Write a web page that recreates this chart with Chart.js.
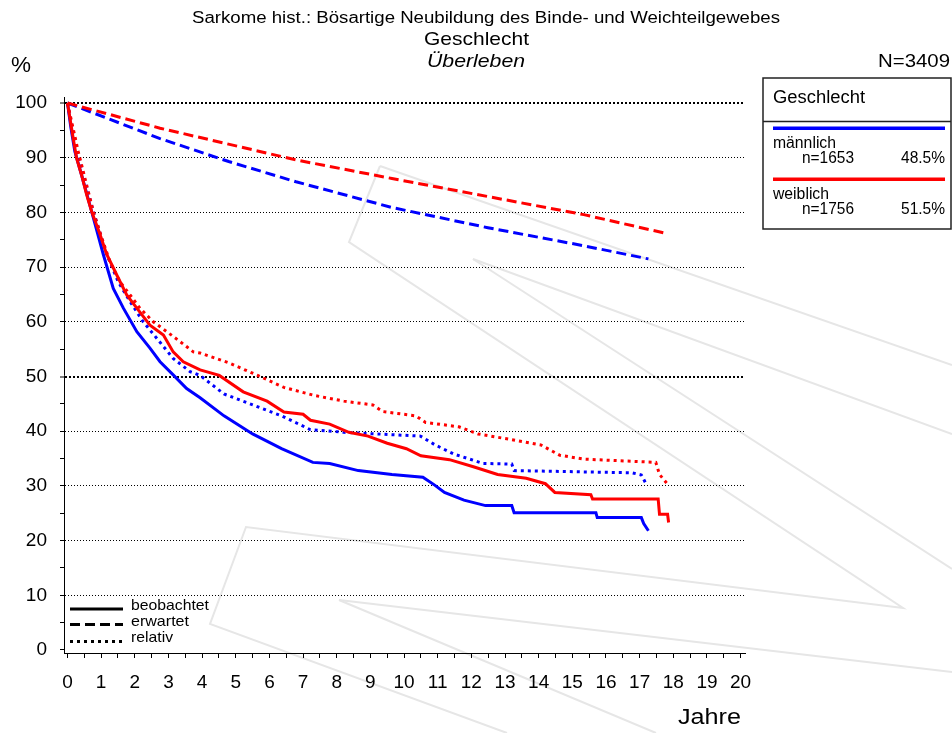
<!DOCTYPE html>
<html lang="de">
<head>
<meta charset="UTF-8">
<title>Sarkome - Überleben nach Geschlecht</title>
<style>
    html, body { margin: 0; padding: 0; background: #fff; }
    #wrap { width: 952px; height: 733px; }
</style>
</head>
<body>
<div id="wrap"><canvas id="chart" width="952" height="733"></canvas></div>

<script src="https://cdn.jsdelivr.net/npm/chart.js"></script>
<script>
    // Werte (Jahre / Prozent)
    const maleObsYears = [0, 0.1, 0.22, 0.42, 0.72, 1.06, 1.36, 1.66, 2.06, 2.45, 2.75, 3.14, 3.54, 3.94, 4.65, 5.5, 6.36, 7.29, 7.79, 8.64, 9.64, 10.56, 10.92, 11.2, 11.78, 12.42, 13.2, 13.27, 15.7, 15.74, 17.05, 17.12, 17.26];
    const maleObsPct = [100, 95.5, 91.1, 86.8, 80.1, 72.4, 66.1, 62.5, 58.2, 55.2, 52.7, 50.3, 47.8, 46.1, 42.8, 39.5, 36.8, 34.3, 34.1, 32.8, 32.1, 31.6, 30.1, 28.8, 27.4, 26.4, 26.4, 25.1, 25.1, 24.2, 24.2, 23.1, 21.8];

    const femaleObsYears = [0, 0.17, 0.27, 0.42, 0.57, 0.72, 0.97, 1.16, 1.46, 1.76, 2.06, 2.45, 2.85, 3.14, 3.44, 3.94, 4.51, 5.22, 5.93, 6.43, 7.0, 7.22, 7.79, 8.36, 8.93, 9.5, 10.07, 10.5, 11.35, 12.06, 12.78, 13.63, 14.2, 14.48, 15.55, 15.6, 17.55, 17.59, 17.83, 17.86];
    const femaleObsPct = [100, 93.5, 89.9, 86.8, 83.2, 80.1, 75.9, 72.4, 68.6, 64.9, 62.5, 59.4, 57.6, 54.5, 52.7, 51.2, 50.2, 47.2, 45.5, 43.5, 43.1, 42.0, 41.3, 39.8, 39.1, 37.8, 36.8, 35.5, 34.8, 33.5, 32.1, 31.4, 30.4, 28.8, 28.4, 27.6, 27.6, 24.8, 24.8, 23.3];

    const maleRelYears = [0, 0.27, 0.47, 0.77, 1.16, 1.51, 1.86, 2.25, 2.65, 3.14, 3.64, 3.94, 4.65, 5.51, 6.36, 7.21, 8.21, 10.49, 10.92, 11.49, 12.35, 13.2, 13.27, 16.77, 17.05, 17.19];
    const maleRelPct = [100, 91.1, 86.8, 80.1, 72.4, 67.3, 63.7, 60.0, 57.0, 53.3, 50.9, 50.2, 46.8, 44.8, 42.8, 40.3, 39.8, 39.1, 37.5, 35.8, 34.1, 34.0, 32.8, 32.4, 32.0, 30.4];

    const femaleRelYears = [0, 0.32, 0.52, 0.77, 1.02, 1.26, 1.56, 1.86, 2.15, 2.55, 2.95, 3.34, 3.74, 3.94, 4.79, 5.65, 6.43, 7.36, 8.21, 9.07, 9.36, 10.35, 10.64, 11.63, 12.2, 13.34, 14.06, 14.63, 15.34, 17.48, 17.59, 17.83];
    const femaleRelPct = [100, 91.1, 86.2, 80.1, 75.3, 71.0, 67.3, 64.9, 62.5, 60.0, 58.2, 56.4, 54.5, 54.3, 52.5, 50.2, 48.0, 46.5, 45.5, 44.8, 43.6, 42.8, 41.6, 40.8, 39.5, 38.3, 37.5, 35.6, 34.9, 34.3, 32.1, 30.3];

    const maleExpYears = [0, 2.75, 4.79, 6.79, 9.64, 12.49, 15.34, 17.26];
    const maleExpPct = [100, 93.5, 89.3, 85.6, 80.9, 77.2, 73.9, 71.5];
    const femaleExpYears = [0, 2.75, 6.79, 9.64, 12.49, 15.34, 17.76];
    const femaleExpPct = [100, 95.4, 89.6, 86.2, 82.9, 79.6, 76.2];

    const groups = ['männlich', 'weiblich'];
    const groupN = ['n=1653', 'n=1756'];
    const groupShare = ['48.5%', '51.5%'];
    const lineTypes = ['beobachtet', 'erwartet', 'relativ'];

    const yTicks = [0, 5, 10, 15, 20, 25, 30, 35, 40, 45, 50, 55, 60, 65, 70, 75, 80, 85, 90, 95, 100];
    const xTicks = [0, 0.5, 1, 1.5, 2, 2.5, 3, 3.5, 4, 4.5, 5, 5.5, 6, 6.5, 7, 7.5, 8, 8.5, 9, 9.5, 10,
                    10.5, 11, 11.5, 12, 12.5, 13, 13.5, 14, 14.5, 15, 15.5, 16, 16.5, 17, 17.5, 18, 18.5, 19, 19.5, 20];

    const BLUE = '#0000ff';
    const RED = '#ff0000';
    const DASHED = [10, 5];
    const DOTTED = [3, 4];
    const FONT = '"Liberation Sans", Arial, sans-serif';

    function series(years, pct, color, dash) {
        return {
            data: years.map((x, i) => ({ x: x, y: pct[i] })),
            borderColor: color,
            borderWidth: 3,
            borderDash: dash,
            borderCapStyle: 'butt',
            borderJoinStyle: 'miter',
            pointRadius: 0,
            tension: 0,
            fill: false,
            clip: false
        };
    }

    // text squeezed/stretched to the width it has in the original
    function fitText(ctx, text, x, y, w, size, align, italic) {
        ctx.save();
        ctx.font = (italic ? 'italic ' : '') + size + 'px ' + FONT;
        const natural = ctx.measureText(text).width;
        let left = x;
        if (align === 'center') left = x - w / 2;
        if (align === 'right') left = x - w;
        ctx.fillStyle = '#000';
        ctx.textBaseline = 'middle';
        ctx.textAlign = 'left';
        ctx.translate(left, y);
        ctx.scale(w / natural, 1);
        ctx.fillText(text, 0, 0);
        ctx.restore();
    }

    function strokeLine(ctx, x1, y1, x2, y2, color, width, dash) {
        ctx.save();
        ctx.strokeStyle = color;
        ctx.lineWidth = width;
        ctx.setLineDash(dash || []);
        ctx.beginPath();
        ctx.moveTo(x1, y1);
        ctx.lineTo(x2, y2);
        ctx.stroke();
        ctx.restore();
    }

    // faint logo in the background
    const watermark = [
        [[380, 166], [349, 242], [903, 608], [246, 527], [210, 624], [507, 733]],
        [[380, 166], [952, 365]],
        [[473, 259], [952, 434]],
        [[473, 259], [952, 569]],
        [[339, 600], [952, 672]],
        [[339, 600], [656, 733]]
    ];

    const decor = {
        id: 'decor',
        beforeDraw(chart) {
            const ctx = chart.ctx;
            ctx.save();
            ctx.fillStyle = '#fff';
            ctx.fillRect(0, 0, chart.width, chart.height);
            ctx.strokeStyle = '#e6e6e6';
            ctx.lineWidth = 2;
            watermark.forEach(pts => {
                ctx.beginPath();
                ctx.moveTo(pts[0][0], pts[0][1]);
                for (let i = 1; i < pts.length; i++) ctx.lineTo(pts[i][0], pts[i][1]);
                ctx.stroke();
            });
            ctx.restore();
        },
        afterDraw(chart) {
            const ctx = chart.ctx;
            // titles
            fitText(ctx, 'Sarkome hist.: Bösartige Neubildung des Binde- und Weichteilgewebes', 192, 19, 588, 16, 'left');
            fitText(ctx, 'Geschlecht', 424, 40, 105, 19, 'left');
            fitText(ctx, 'Überleben', 427, 62, 98, 19, 'left', true);
            fitText(ctx, '%', 11, 66, 20, 22, 'left');
            fitText(ctx, 'N=3409', 878, 62, 72, 18, 'left');
            fitText(ctx, 'Jahre', 678, 718, 63, 22, 'left');

            // legend box on the right
            ctx.save();
            ctx.strokeStyle = '#222';
            ctx.lineWidth = 1.5;
            ctx.strokeRect(763, 78, 188, 151);
            ctx.restore();
            strokeLine(ctx, 763, 121.5, 951, 121.5, '#222', 1.5);
            fitText(ctx, 'Geschlecht', 773, 98, 92, 18, 'left');
            const colors = [BLUE, RED];
            const nameW = [63, 56];
            groups.forEach((g, i) => {
                const top = 128.3 + i * 51;
                strokeLine(ctx, 773, top, 945, top, colors[i], 3.5);
                fitText(ctx, g, 773, top + 15, nameW[i], 16, 'left');
                fitText(ctx, groupN[i], 802, top + 30.5, 52, 16, 'left');
                fitText(ctx, groupShare[i], 945, top + 30.5, 44, 16, 'right');
            });

            // line style legend, bottom left
            const dashes = [[], DASHED, DOTTED];
            const textW = [78, 58, 42];
            lineTypes.forEach((t, i) => {
                const ly = [609, 624.5, 641.5][i];
                strokeLine(ctx, 70, ly, 123, ly, '#000', 3, dashes[i]);
                fitText(ctx, t, 131, [606, 622, 638][i], textW[i], 15, 'left');
            });
        }
    };

    const ctx = document.getElementById('chart').getContext('2d');
    const survivalChart = new Chart(ctx, {
        type: 'line',
        data: {
            datasets: [
                series(femaleObsYears, femaleObsPct, RED, []),
                series(femaleExpYears, femaleExpPct, RED, DASHED),
                series(femaleRelYears, femaleRelPct, RED, DOTTED),
                series(maleObsYears, maleObsPct, BLUE, []),
                series(maleExpYears, maleExpPct, BLUE, DASHED),
                series(maleRelYears, maleRelPct, BLUE, DOTTED)
            ]
        },
        options: {
            responsive: false,
            animation: false,
            devicePixelRatio: 1,
            layout: { padding: { top: 97, right: 207, left: 0, bottom: 0 } },
            plugins: {
                legend: { display: false },
                tooltip: { enabled: false },
                title: { display: false }
            },
            scales: {
                x: {
                    type: 'linear',
                    min: -0.104,
                    max: 20.13,
                    afterBuildTicks: scale => { scale.ticks = xTicks.map(v => ({ value: v })); },
                    afterFit: scale => { scale.height = 80; },
                    grid: {
                        color: 'rgba(0,0,0,0)',
                        drawTicks: true,
                        tickLength: 5,
                        tickColor: '#000',
                        tickWidth: 1
                    },
                    border: { display: true, color: '#000', width: 1 },
                    ticks: {
                        autoSkip: false,
                        maxRotation: 0,
                        padding: 13,
                        color: '#000',
                        font: { family: FONT, size: 19 },
                        callback: v => Number.isInteger(v) ? String(v) : ''
                    }
                },
                y: {
                    min: -0.55,
                    max: 101.1,
                    afterBuildTicks: scale => { scale.ticks = yTicks.map(v => ({ value: v })); },
                    afterFit: scale => { scale.width = 64; },
                    grid: {
                        color: c => (c.tick && c.tick.value > 0 && c.tick.value % 10 === 0) ? '#000' : 'rgba(0,0,0,0)',
                        lineWidth: c => (c.tick && (c.tick.value === 50 || c.tick.value === 100)) ? 2 : 1,
                        drawTicks: true,
                        tickLength: 4,
                        tickColor: '#000',
                        tickWidth: 1
                    },
                    border: {
                        display: true,
                        color: '#000',
                        width: 1,
                        dash: c => (c.tick && (c.tick.value === 50 || c.tick.value === 100)) ? [2, 2] : [1, 2]
                    },
                    ticks: {
                        padding: 13,
                        color: '#000',
                        font: { family: FONT, size: 19 },
                        callback: v => (v % 10 === 0) ? String(v) : ''
                    }
                }
            }
        },
        plugins: [decor]
    });
</script>
</body>
</html>
